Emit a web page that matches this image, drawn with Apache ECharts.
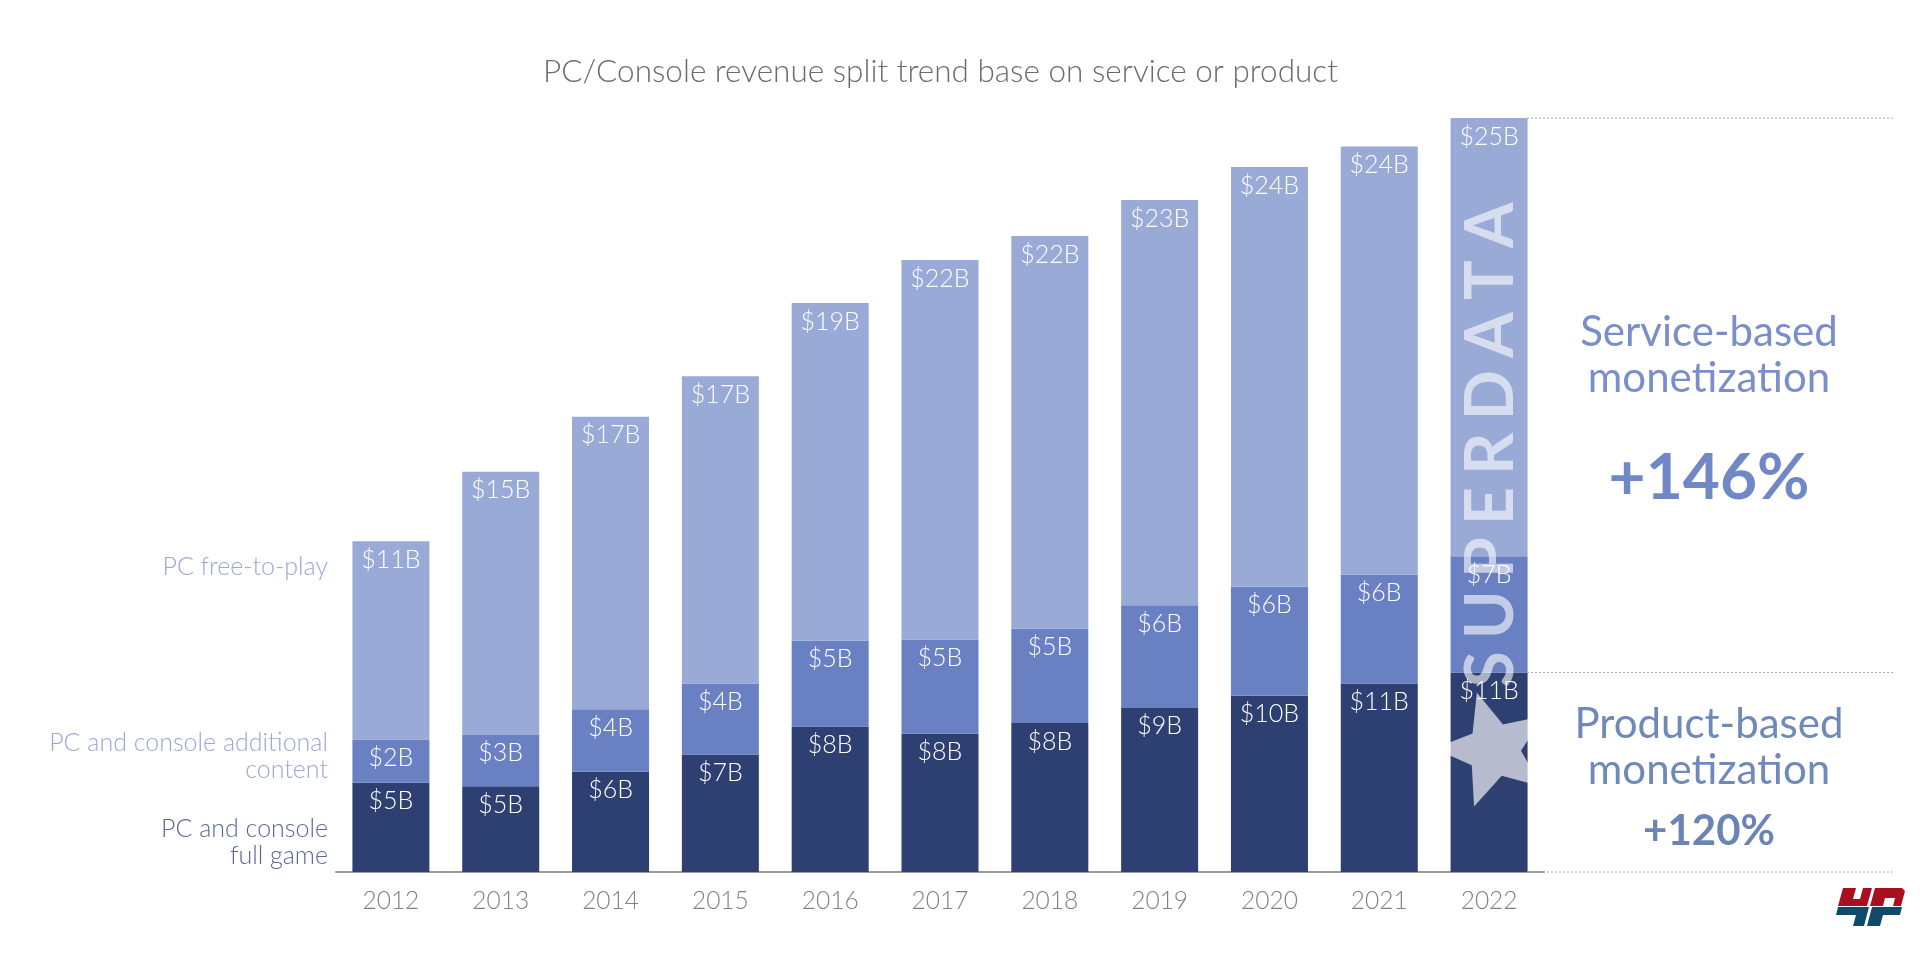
<!DOCTYPE html>
<html>
<head>
<meta charset="utf-8">
<script src="https://cdn.jsdelivr.net/npm/echarts@6/dist/echarts.min.js"></script>
<style>
  html, body { margin: 0; padding: 0; background: #fff; }
  #chart { width: 1920px; height: 954px; }
</style>
</head>
<body>
<div id="chart"></div>
<script>
  // years on the category axis
  var years = ['2012', '2013', '2014', '2015', '2016', '2017', '2018', '2019', '2020', '2021', '2022'];
  // revenue in $B
  var fullGame = [5.07, 4.86, 5.69, 6.67, 8.26, 7.85, 8.45, 9.31, 10.0, 10.69, 11.32];
  var additional = [2.45, 2.92, 3.54, 4.03, 4.86, 5.35, 5.35, 5.83, 6.18, 6.18, 6.6];
  var freeToPlay = [11.25, 14.93, 16.6, 17.43, 19.17, 21.53, 22.29, 22.99, 23.82, 24.3, 24.86];

  var FONT = 'Lato, "Noto Sans", sans-serif';

  function barLabel(p) {
    return '$' + Math.round(p.value) + 'B';
  }

  function makeSeries(name, data, color) {
    return {
      name: name,
      type: 'bar',
      stack: 'total',
      barWidth: 77,
      data: data,
      itemStyle: { color: color },
      label: {
        show: true,
        position: 'insideTop',
        distance: 6,
        color: '#ffffff',
        fontFamily: FONT,
        fontWeight: 300,
        fontSize: 25,
        formatter: barLabel
      }
    }
  }

  var chart = echarts.init(document.getElementById('chart'));
  chart.setOption({
    animation: false,
    backgroundColor: '#ffffff',
    title: {
      text: 'PC/Console revenue split trend base on service or product',
      left: 543,
      top: 56,
      padding: 0,
      textStyle: {
        fontFamily: FONT,
        fontWeight: 300,
        fontSize: 31.5,
        color: '#6b6b6b'
      }
    },
    grid: {
      left: 336,
      right: 376,
      top: 79,
      bottom: 82,
      containLabel: false,
      outerBoundsMode: 'none'
    },
    xAxis: {
      type: 'category',
      data: years,
      axisLine: { lineStyle: { color: '#9a9a9a', width: 2 } },
      axisTick: { show: false },
      axisLabel: {
        color: '#808080',
        fontFamily: FONT,
        fontWeight: 300,
        fontSize: 24.5,
        margin: 17
      }
    },
    yAxis: {
      type: 'value',
      show: false,
      min: 0,
      max: 45
    },
    series: [
      makeSeries('PC and console full game', fullGame, '#2e4072'),
      makeSeries('PC and console additional content', additional, '#6980c2'),
      makeSeries('PC free-to-play', freeToPlay, '#9aaad6')
    ]
  });

  // dotted guide lines to the right of the last bar
  var last = years.length - 1;
  var total2022 = fullGame[last] + additional[last] + freeToPlay[last];
  var xStart = chart.convertToPixel({ xAxisIndex: 0 }, years[last]) + 38;
  var guideYs = [total2022, fullGame[last], 0].map(function (v) {
    return chart.convertToPixel({ yAxisIndex: 0 }, v);
  });
  var guides = guideYs.map(function (y) {
    return {
      type: 'line',
      z: 50,
      shape: { x1: xStart, y1: y, x2: 1895, y2: y },
      style: { stroke: '#a8a8a8', lineWidth: 1, lineDash: [2, 2] },
      silent: true
    };
  });

  // star watermark on the last bar
  var starPts = [];
  var tilt = -16.6 * Math.PI / 180;
  for (var i = 0; i < 10; i++) {
    var r = i % 2 === 0 ? 60 : 27;
    var a = -Math.PI / 2 + tilt + i * Math.PI / 5;
    starPts.push([1494 + r * Math.cos(a), 750 + r * Math.sin(a)]);
  }

  // watermark letters with narrow gaps between them
  var mark = 'SUPERDATA'.split('').join('{s| }');

  var sideText = function (text, x, y, size, weight, color) {
    return {
      type: 'text',
      z: 50,
      x: x,
      y: y,
      style: {
        text: text,
        fill: color,
        font: weight + ' ' + size + 'px ' + FONT,
        textAlign: 'center',
        textVerticalAlign: 'middle'
      }
    };
  };
  var leftText = function (text, y, color) {
    return {
      type: 'text',
      z: 50,
      x: 328,
      y: y,
      style: {
        text: text,
        fill: color,
        font: '300 25px ' + FONT,
        textAlign: 'right',
        textVerticalAlign: 'middle'
      }
    };
  };
  var logoPart = function (pts, color) {
    return {
      type: 'polygon',
      z: 50,
      shape: { points: pts },
      style: { fill: color },
      silent: true
    };
  };

  chart.setOption({
    graphic: guides.concat([
      {
        type: 'polygon',
        z: 100,
        shape: { points: starPts },
        style: { fill: 'rgba(255,255,255,0.65)' },
        silent: true
      },
      {
        type: 'text',
        z: 100,
        x: 1492,
        y: 445,
        rotation: Math.PI / 2,
        style: {
          text: mark,
          fill: 'rgba(255,255,255,0.6)',
          font: '700 66px ' + FONT,
          textAlign: 'center',
          textVerticalAlign: 'middle',
          rich: {
            s: { font: '700 50px ' + FONT }
          }
        },
        silent: true
      },
      leftText('PC free-to-play', 567, '#98a8d8'),
      leftText('PC and console additional', 743, '#98a8d8'),
      leftText('content', 770, '#98a8d8'),
      leftText('PC and console', 829, '#5a6a96'),
      leftText('full game', 856, '#5a6a96'),
      sideText('Service-based', 1709, 332, 42, 400, '#7a8fca'),
      sideText('monetization', 1709, 378, 42, 400, '#7a8fca'),
      sideText('+146%', 1709, 478, 64, 700, '#7188c6'),
      sideText('Product-based', 1709, 724, 42, 400, '#6f89b8'),
      sideText('monetization', 1709, 770, 42, 400, '#6f89b8'),
      sideText('+120%', 1709, 831, 42, 700, '#6a85b5'),
      // 4P logo, bottom right
      logoPart([[1843, 888], [1856, 888], [1853, 899], [1860, 899], [1863, 888], [1872, 888], [1867, 906], [1838, 906]], '#a8101f'),
      logoPart([[1875, 888], [1902, 888], [1905, 891], [1901, 906], [1893, 906], [1895, 898], [1885, 898], [1883, 906], [1870, 906]], '#a8101f'),
      logoPart([[1838, 907], [1869, 907], [1864, 926], [1853, 926], [1856, 915], [1836, 915]], '#0f4a6b'),
      logoPart([[1872, 907], [1902, 907], [1900, 915], [1883, 915], [1880, 926], [1867, 926]], '#0f4a6b')
    ])
  });
</script>
</body>
</html>
